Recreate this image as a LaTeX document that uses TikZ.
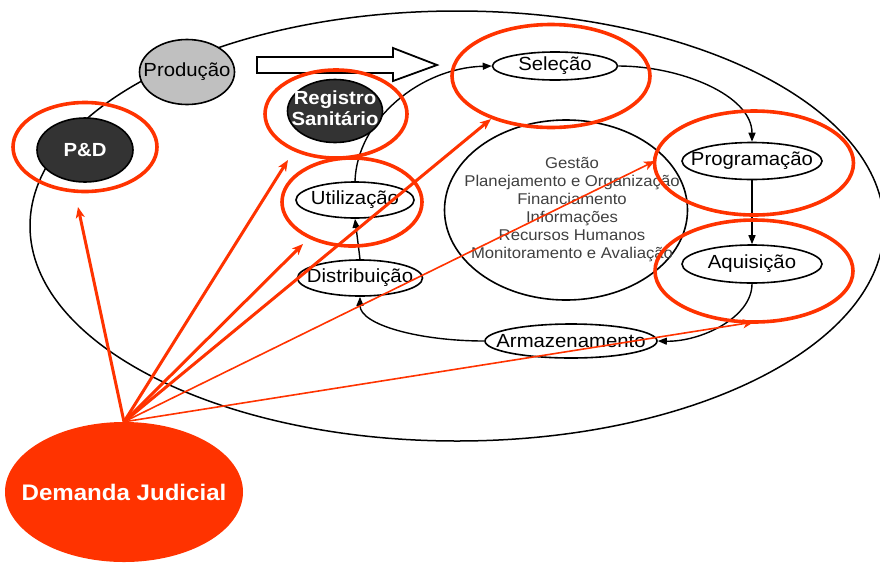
\documentclass[tikz,border=0pt]{standalone}
\usepackage{fontspec}
\setmainfont{Liberation Sans}[FakeStretch=1.07]
\usetikzlibrary{shapes.geometric,arrows.meta}
\definecolor{alert}{HTML}{FF3300}
\definecolor{darkfill}{HTML}{333333}
\definecolor{prodfill}{HTML}{C0C0C0}

\begin{document}
\begin{tikzpicture}[x=1pt,y=-1pt,
  stage/.style={ellipse,draw=black,line width=1.6pt,fill=white,inner sep=0pt,
    font=\fontsize{19}{22}\selectfont},
  darkstage/.style={stage,fill=darkfill,text=white,font=\fontsize{19}{22}\selectfont\bfseries},
  ring/.style={ellipse,draw=alert,line width=3.6pt,inner sep=0pt},
  flow/.style={draw=black,line width=1.4pt,-{Triangle[length=9pt,width=7pt]}},
  hit/.style={draw=alert,line width=3pt,-{Stealth[length=11pt,width=9pt,inset=3pt]}},
  hitthin/.style={draw=alert,line width=1.6pt,-{Stealth[length=11pt,width=9pt,inset=3pt]}},
]
\useasboundingbox (0,0) rectangle (880,563);
\clip (0,0) rectangle (880,563);

% outer cycle of the product chain
\draw[line width=1.5pt] (457,226) ellipse [x radius=427, y radius=215];

% management core
\node[ellipse,draw=black,line width=1.6pt,minimum width=243pt,minimum height=180pt] (core) at (566,210) {};
\node[align=center,text=black!75,font=\fontsize{15.6}{18}\selectfont] (coretext) at (572,210)
  {Gestão\\Planejamento e Organização\\Financiamento\\Informações\\Recursos Humanos\\Monitoramento e Avaliação};

% hollow block arrow
\draw[line width=1.8pt,fill=white] (257,57) -- (393,57) -- (393,48) -- (437,65) -- (393,81) -- (393,73) -- (257,73) -- cycle;

% stages
\node[stage,minimum width=125pt,minimum height=28pt] (sel) at (555,66) {\makebox[0pt]{Seleção}};
\node[stage,minimum width=140pt,minimum height=37pt] (prog) at (752,161) {\makebox[0pt]{Programação}};
\node[stage,minimum width=140pt,minimum height=38pt] (aq) at (752,264) {\makebox[0pt]{Aquisição}};
\node[stage,minimum width=172pt,minimum height=34pt] (arm) at (571,341) {\makebox[0pt]{Armazenamento}};
\node[stage,minimum width=125pt,minimum height=36pt] (dist) at (360,278) {\makebox[0pt]{Distribuição}};
\node[stage,minimum width=118pt,minimum height=36pt] (util) at (355,200) {\makebox[0pt]{Utilização}};

% cycle connectors
\draw[flow] (util.north) .. controls (357,120) and (420,68) .. (sel.west);
\draw[flow] (sel.east) .. controls (680,66) and (752,95) .. (prog.north);
\draw[flow] (prog.south) -- (aq.north);
\draw[flow] (aq.south) .. controls (752,318) and (700,342) .. (arm.east);
\draw[flow] (arm.west) .. controls (420,341) and (360,325) .. (dist.south);
\draw[flow] (dist.north) -- (util.south);

% nodes on the outer cycle
\node[darkstage,minimum width=95pt,minimum height=63pt] (rs) at (335,111)
  {\makebox[0pt]{\begin{tabular}{@{}c@{}}Registro\\[-1pt]Sanitário\end{tabular}}};
\node[darkstage,minimum width=96pt,minimum height=64pt] (pd) at (85,150) {\makebox[0pt]{P\&D}};
\node[stage,fill=prodfill,minimum width=95pt,minimum height=65pt] (prod) at (187,72) {\makebox[0pt]{Produção}};

% highlighted stages
\node[ring,minimum width=144pt,minimum height=89pt] (rpd) at (85,147) {};
\node[ring,minimum width=142pt,minimum height=88pt] (rrs) at (336,114) {};
\node[ring,minimum width=140pt,minimum height=88pt] (rut) at (352,202) {};
\node[ring,minimum width=198pt,minimum height=103pt] (rse) at (551,76) {};
\node[ring,minimum width=199pt,minimum height=104pt] (rpr) at (754,163) {};
\node[ring,minimum width=198pt,minimum height=102pt] (raq) at (754,271) {};

% judicial demand and its reach
\coordinate (tPD) at (78,207);
\coordinate (tRS) at (288,160);
\coordinate (tUT) at (303,244);
\coordinate (tSE) at (491,119);
\coordinate (tPR) at (655,161);
\coordinate (tAQ) at (754,322);

\node[ellipse,fill=alert,minimum width=238pt,minimum height=140pt,inner sep=0pt,text=white,
  font=\fontsize{22.5}{26}\selectfont\bfseries] (dj) at (124,492) {\makebox[0pt]{Demanda Judicial}};

\draw[hit] (dj.north) -- (tPD);
\draw[hit] (dj.north) -- (tRS);
\draw[hit] (dj.north) -- (tUT);
\draw[hit] (dj.north) -- (tSE);
\draw[hitthin] (dj.north) -- (tPR);
\draw[hitthin] (dj.north) -- (tAQ);
\end{tikzpicture}
\end{document}
